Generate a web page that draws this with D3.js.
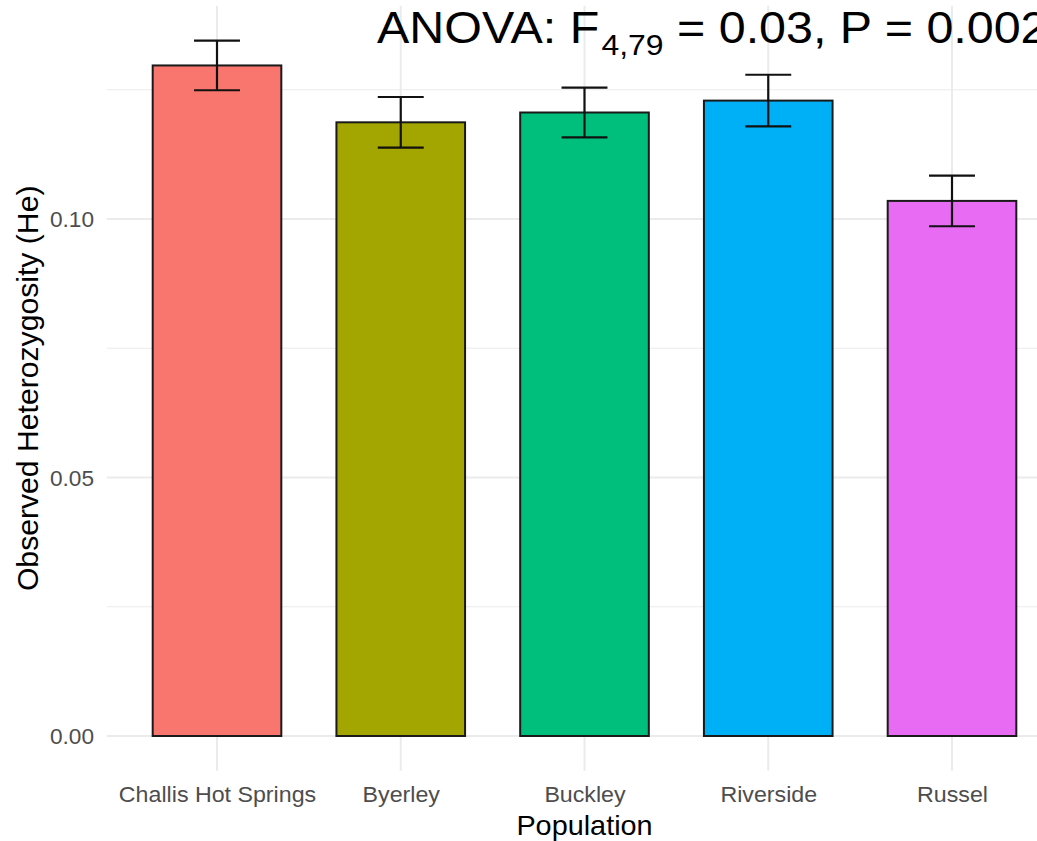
<!DOCTYPE html>
<html><head><meta charset="utf-8">
<script src="https://cdn.jsdelivr.net/npm/d3@7"></script>
<style>body{margin:0;background:#fff;overflow:hidden}svg{display:block}</style>
</head><body>
<svg id="c" width="1037" height="841"></svg>
<script>
const categories = ["Challis Hot Springs","Byerley","Buckley","Riverside","Russel"];
const means = [0.1297, 0.1187, 0.1206, 0.1229, 0.1035];
const errors = [0.0048, 0.0049, 0.0048, 0.0050, 0.0049];
const colors = ["#F8766D","#A3A500","#00BF7D","#00B0F6","#E76BF3"];
const majorTicks = [0, 0.05, 0.10];
const minorTicks = [0.025, 0.075, 0.125];
const titleMain = "ANOVA: F";
const titleSub = "4,79";
const titleRest = " = 0.03, P = 0.002";
const xTitle = "Population";
const yTitle = "Observed Heterozygosity (He)";

const svg = d3.select("#c");
const font = "Liberation Sans, Arial, Helvetica, sans-serif";

const x = d3.scalePoint().domain(categories).range([106.75, 1062.25]).padding(0.6);
const step = x.step();
const y = d3.scaleLinear().domain([0, 0.1]).range([736, 219]);
const ymax = d3.max(means.map((m,i)=>m+errors[i]));
const pad = ymax*0.05;
const panelTop = y(ymax+pad), panelBot = y(-pad);
const panelLeft = 106.75, panelRight = 1062.25;

const g = svg.append("g");
g.selectAll(".mn").data(minorTicks).join("line")
  .attr("x1", panelLeft).attr("x2", panelRight)
  .attr("y1", d=>y(d)).attr("y2", d=>y(d))
  .attr("stroke", "#EBEBEB").attr("stroke-width", 1);
g.selectAll(".mj").data(majorTicks).join("line")
  .attr("x1", panelLeft).attr("x2", panelRight)
  .attr("y1", d=>y(d)).attr("y2", d=>y(d))
  .attr("stroke", "#EBEBEB").attr("stroke-width", 2);
g.selectAll(".vx").data(categories).join("line")
  .attr("x1", d=>x(d)).attr("x2", d=>x(d))
  .attr("y1", panelTop).attr("y2", panelBot)
  .attr("stroke", "#EBEBEB").attr("stroke-width", 2);

const bw = step*0.7;
g.selectAll(".bar").data(categories).join("rect")
  .attr("x", d=>x(d)-bw/2).attr("width", bw)
  .attr("y", (d,i)=>y(means[i])).attr("height", (d,i)=>y(0)-y(means[i]))
  .attr("fill", (d,i)=>colors[i]).attr("stroke", "#1a1a1a").attr("stroke-width", 2);

const cw = step*0.25;
const eb = g.selectAll(".eb").data(categories).join("g");
eb.append("line").attr("x1", d=>x(d)).attr("x2", d=>x(d))
  .attr("y1", (d,i)=>y(means[i]+errors[i])).attr("y2", (d,i)=>y(means[i]-errors[i]));
eb.append("line").attr("x1", d=>x(d)-cw/2).attr("x2", d=>x(d)+cw/2)
  .attr("y1", (d,i)=>y(means[i]+errors[i])).attr("y2", (d,i)=>y(means[i]+errors[i]));
eb.append("line").attr("x1", d=>x(d)-cw/2).attr("x2", d=>x(d)+cw/2)
  .attr("y1", (d,i)=>y(means[i]-errors[i])).attr("y2", (d,i)=>y(means[i]-errors[i]));
eb.selectAll("line").attr("stroke", "#111").attr("stroke-width", 2.2);

const yAxis = d3.axisLeft(y).tickValues(majorTicks).tickFormat(d3.format(".2f")).tickSize(0).tickPadding(0);
const ya = svg.append("g").attr("transform", "translate(94,0)").call(yAxis);
ya.select(".domain").remove();
ya.selectAll("text").attr("font-family", font).attr("font-size", 22).attr("fill", "#4D4D4D")
  .attr("dy", "0.36em").attr("x", 0).attr("transform", "scale(1.03,1)");

const xAxis = d3.axisBottom(x).tickSize(0).tickPadding(0);
const xa = svg.append("g").attr("transform", "translate(0,802)").call(xAxis);
xa.select(".domain").remove();
xa.selectAll("text").attr("font-family", font).attr("font-size", 22).attr("fill", "#4D4D4D")
  .attr("dy", 0).attr("transform", "scale(1.055,1)");

svg.append("text").attr("transform", `translate(${(panelLeft+panelRight)/2},835) scale(1.03,1)`)
  .attr("text-anchor", "middle").attr("font-family", font).attr("font-size", 28).attr("fill", "#000")
  .text(xTitle);
svg.append("text").attr("transform", `translate(38,${(panelTop+panelBot)/2}) rotate(-90) scale(1.04,1)`)
  .attr("text-anchor", "middle").attr("font-family", font).attr("font-size", 29).attr("fill", "#000")
  .text(yTitle);

const t = svg.append("text").attr("transform", "translate(377,43) scale(1.1,1)")
  .attr("font-family", font).attr("font-size", 44).attr("fill", "#000");
t.append("tspan").text(titleMain);
t.append("tspan").attr("font-size", 29).attr("dy", 12).attr("dx", 2).text(titleSub);
t.append("tspan").attr("dy", -12).text(titleRest);
</script>
</body></html>
